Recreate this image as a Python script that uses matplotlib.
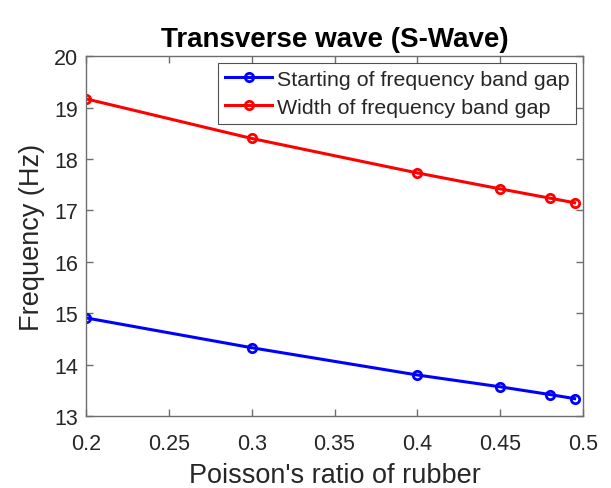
import matplotlib
matplotlib.use("Agg")
import matplotlib.pyplot as plt

poisson = [0.2, 0.3, 0.4, 0.45, 0.48, 0.495]
start_freq = [14.91, 14.33, 13.80, 13.57, 13.42, 13.34]
width_freq = [19.17, 18.40, 17.73, 17.42, 17.24, 17.15]
xticks = [0.2, 0.25, 0.3, 0.35, 0.4, 0.45, 0.5]
xticklabels = ["0.2", "0.25", "0.3", "0.35", "0.4", "0.45", "0.5"]
yticks = [13, 14, 15, 16, 17, 18, 19, 20]

plt.rcParams['font.family'] = ['Liberation Sans', 'DejaVu Sans']
txt = '#262626'
spine = '#6e6e6e'

fig = plt.figure(figsize=(6.11, 4.89), dpi=100)
ax = fig.add_axes([0.141, 0.147, 0.813, 0.736])

ax.plot(poisson, start_freq, color='#0000ff', lw=2.2, marker='o', ms=6,
        mfc='none', mew=2, label='Starting of frequency band gap')
ax.plot(poisson, width_freq, color='#ff0000', lw=2.2, marker='o', ms=6,
        mfc='none', mew=2, label='Width of frequency band gap')

ax.set_xlim(0.2, 0.5)
ax.set_ylim(13, 20)
ax.set_xticks(xticks)
ax.set_xticklabels(xticklabels)
ax.set_yticks(yticks)
ax.tick_params(direction='in', top=True, right=True, labelsize=15.5,
               colors=spine, labelcolor=txt, length=5, width=1)
ax.tick_params(axis='x', pad=12)
ax.tick_params(axis='y', pad=6)
for s in ax.spines.values():
    s.set_color(spine)
    s.set_linewidth(1)

ax.set_xlabel("Poisson's ratio of rubber", fontsize=19.5, color=txt, labelpad=6)
ax.set_ylabel("Frequency (Hz)", fontsize=19.5, color=txt, labelpad=6)
ax.set_title("Transverse wave (S-Wave)", fontsize=20, fontweight='bold',
             color='black', pad=7)

leg = ax.legend(loc='upper right', fontsize=15.4, frameon=True, fancybox=False,
                edgecolor=txt, handlelength=2.2, handletextpad=0.2,
                borderaxespad=0.3, borderpad=0.34, labelspacing=0.42)
leg.get_frame().set_linewidth(0.8)
for t in leg.get_texts():
    t.set_color(txt)

fig.savefig('out.png', dpi=100)
